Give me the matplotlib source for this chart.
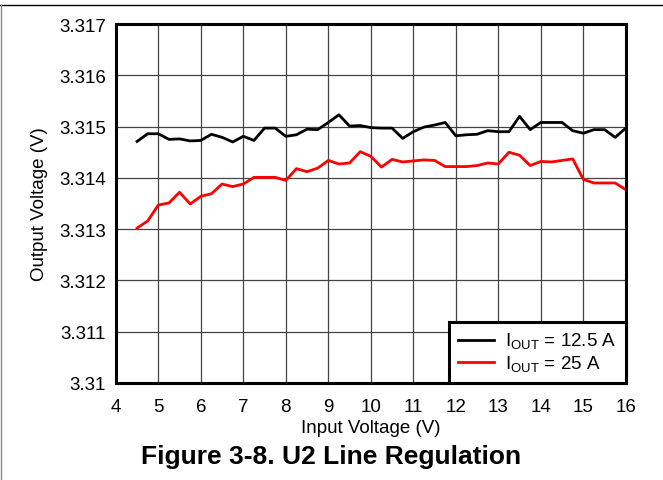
import matplotlib
matplotlib.use("Agg")
import matplotlib.pyplot as plt
from matplotlib.lines import Line2D

plt.rcParams['font.family'] = ['Liberation Sans', 'DejaVu Sans']
plt.rcParams['mathtext.fontset'] = 'custom'
plt.rcParams['mathtext.rm'] = 'Liberation Sans'

# input voltage sweep (V)
vin = [4.5, 4.75, 5.0, 5.25, 5.5, 5.75, 6.0, 6.25, 6.5, 6.75, 7.0, 7.25,
       7.5, 7.75, 8.0, 8.25, 8.5, 8.75, 9.0, 9.25, 9.5, 9.75, 10.0, 10.25,
       10.5, 10.75, 11.0, 11.25, 11.5, 11.75, 12.0, 12.25, 12.5, 12.75, 13.0,
       13.25, 13.5, 13.75, 14.0, 14.25, 14.5, 14.75, 15.0, 15.25, 15.5,
       15.75, 16.0]

# output voltage at 12.5 A
vout_12a5 = [3.31471, 3.31486, 3.31486, 3.31475, 3.31476, 3.31472, 3.31473,
             3.31485, 3.31479, 3.31470, 3.31481, 3.31473, 3.31497, 3.31497,
             3.31481, 3.31484, 3.31495, 3.31494, 3.31508, 3.31523, 3.31501,
             3.31502, 3.31498, 3.31497, 3.31497, 3.31477, 3.31490, 3.31499,
             3.31503, 3.31508, 3.31482, 3.31484, 3.31485, 3.31492, 3.31490,
             3.31490, 3.31520, 3.31494, 3.31508, 3.31508, 3.31508, 3.31492,
             3.31487, 3.31494, 3.31494, 3.31479, 3.31497]

# output voltage at 25 A
vout_25a = [3.31302, 3.31316, 3.31347, 3.31351, 3.31372, 3.31349, 3.31364,
            3.31369, 3.31388, 3.31383, 3.31388, 3.31401, 3.31401, 3.31401,
            3.31395, 3.31418, 3.31412, 3.31419, 3.31434, 3.31427, 3.31429,
            3.31451, 3.31442, 3.31421, 3.31436, 3.31431, 3.31433, 3.31435,
            3.31434, 3.31422, 3.31422, 3.31422, 3.31424, 3.31429, 3.31427,
            3.31450, 3.31444, 3.31424, 3.31432, 3.31431, 3.31434, 3.31437,
            3.31397, 3.31390, 3.31390, 3.31390, 3.31377]

xticks = [4, 5, 6, 7, 8, 9, 10, 11, 12, 13, 14, 15, 16]
yticks = [3.310, 3.311, 3.312, 3.313, 3.314, 3.315, 3.316, 3.317]
ytick_labels = ['3.31', '3.311', '3.312', '3.313', '3.314', '3.315', '3.316', '3.317']

fig = plt.figure(figsize=(6.63, 4.81), dpi=100)
ax = fig.add_axes([0.1747, 0.2017, 0.7692, 0.7463])

ax.plot(vin, vout_12a5, color='black', lw=2, label=r'I$_\mathregular{OUT}$ = 12.5 A')
ax.plot(vin, vout_25a, color='#ff0000', lw=2, label=r'I$_\mathregular{OUT}$ = 25 A')

ax.set_xlim(4, 16)
ax.set_ylim(3.310, 3.317)
ax.set_xticks(xticks)
ax.set_yticks(yticks)
ax.set_yticklabels(ytick_labels)
ax.tick_params(length=0, labelsize=13.5)
ax.tick_params(axis='x', pad=11)
ax.tick_params(axis='y', pad=7)
ax.grid(True, color='#444444', lw=0.9)
for s in ax.spines.values():
    s.set_linewidth(2.2)

ax.set_xlabel('Input Voltage (V)', fontsize=13.5)
ax.set_ylabel('Output Voltage (V)', fontsize=13.5)
ax.xaxis.set_label_coords(0.5, -0.1)
ax.yaxis.set_label_coords(-0.133, 0.5)

leg = ax.legend(loc='lower right', borderaxespad=0, fancybox=False,
                edgecolor='black', fontsize=13.5, handlelength=1.9,
                handletextpad=0.6, labelspacing=0.1, borderpad=0.5,
                framealpha=1)
leg.get_frame().set_linewidth(2.2)

fig.text(0.5, 0.050, 'Figure 3-8. U2 Line Regulation', ha='center', va='center',
         fontsize=19, fontweight='bold')

# page frame
fig.add_artist(Line2D([0, 1], [1 - 6 / 481, 1 - 6 / 481], color='black', lw=1))
fig.add_artist(Line2D([1 / 663, 1 / 663], [0, 1 - 6 / 481], color='#888888', lw=1))

fig.savefig('out.png', dpi=100)
